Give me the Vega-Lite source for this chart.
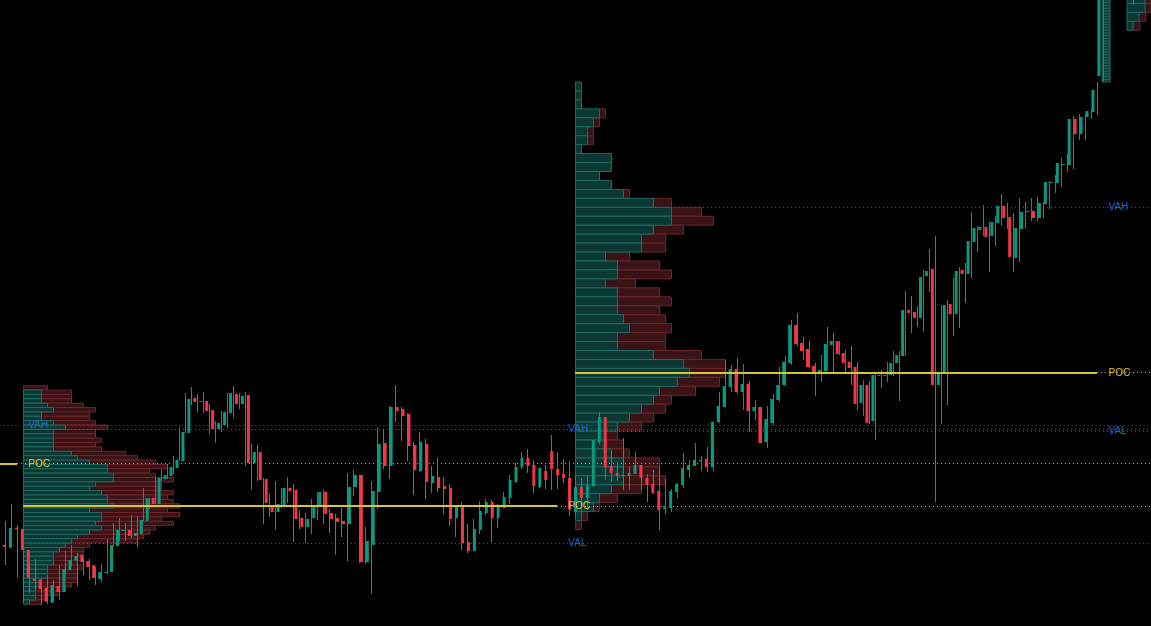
{
"$schema": "https://vega.github.io/schema/vega-lite/v6.json",
"width": 1151, "height": 626, "padding": 0, "autosize": {"type": "none"},
"background": "#000000",
"config": {"view": {"stroke": null}},
"datasets": {
"candles": [
{"i":-1,"o":81,"h":86,"l":76,"c":79},{"i":0,"o":78.3,"h":105,"l":61,"c":98},{"i":1,"o":98.3,"h":122,"l":91,"c":97},{"i":2,"o":97,"h":101,"l":48.3,"c":76},{"i":3,"o":76,"h":78.3,"l":23.3,"c":48.3},{"i":4,"o":47.3,"h":63,"l":33.3,"c":45},{"i":5,"o":46.7,"h":67,"l":36,"c":37},{"i":6,"o":38.3,"h":41,"l":21,"c":24.3},{"i":7,"o":23.3,"h":50,"l":22,"c":41},{"i":8,"o":40,"h":46,"l":24,"c":34},{"i":9,"o":34,"h":61,"l":26,"c":57},{"i":10,"o":56,"h":75,"l":52,"c":66},{"i":11,"o":65.3,"h":81,"l":59.3,"c":70},{"i":12,"o":71.3,"h":73.3,"l":39.3,"c":64},{"i":13,"o":65,"h":67,"l":51,"c":59},{"i":14,"o":61,"h":67,"l":46,"c":48},{"i":15,"o":47,"h":59,"l":41,"c":54},{"i":16,"o":53,"h":62,"l":44,"c":54},{"i":17,"o":54,"h":87,"l":52,"c":81},{"i":18,"o":80,"h":103,"l":79.3,"c":96},{"i":19,"o":95,"h":108,"l":85,"c":96},{"i":20,"o":96,"h":103,"l":85,"c":90},{"i":21,"o":90,"h":111,"l":88,"c":93},{"i":22,"o":92,"h":110,"l":79,"c":106},{"i":23,"o":105.3,"h":138,"l":104.3,"c":128},{"i":24,"o":128,"h":128,"l":117,"c":122},{"i":25,"o":122,"h":149,"l":122,"c":148},{"i":26,"o":147,"h":157,"l":145,"c":151},{"i":27,"o":150,"h":162,"l":147,"c":159},{"i":28,"o":158,"h":170,"l":152,"c":166},{"i":29,"o":165,"h":199,"l":165,"c":194},{"i":30,"o":193,"h":233,"l":193,"c":227},{"i":31,"o":228,"h":239,"l":221,"c":224},{"i":32,"o":224,"h":232,"l":214,"c":225},{"i":33,"o":225,"h":234,"l":213,"c":215},{"i":34,"o":216,"h":222,"l":192,"c":197},{"i":35,"o":197,"h":205,"l":183,"c":203},{"i":36,"o":201,"h":215,"l":194,"c":214},{"i":37,"o":213,"h":233,"l":198,"c":233},{"i":38,"o":232,"h":240,"l":208,"c":222},{"i":39,"o":222,"h":233,"l":217,"c":230},{"i":40,"o":231,"h":234,"l":160,"c":163},{"i":41,"o":163,"h":182,"l":136,"c":174},{"i":42,"o":174,"h":181,"l":145,"c":146},{"i":43,"o":147,"h":148,"l":102,"c":123},{"i":44,"o":121,"h":132,"l":109,"c":114},{"i":45,"o":114,"h":145,"l":96,"c":122},{"i":46,"o":120,"h":138,"l":118,"c":138},{"i":47,"o":138,"h":149,"l":123,"c":135},{"i":48,"o":136,"h":142,"l":84,"c":107},{"i":49,"o":108,"h":116,"l":97,"c":99},{"i":50,"o":99,"h":113,"l":83,"c":107},{"i":51,"o":108,"h":127,"l":92,"c":120},{"i":52,"o":120,"h":134,"l":106,"c":134},{"i":53,"o":134,"h":136,"l":102,"c":112},{"i":54,"o":113,"h":117,"l":93,"c":107},{"i":55,"o":108,"h":112,"l":71,"c":104},{"i":56,"o":105,"h":118,"l":89,"c":102},{"i":57,"o":102,"h":153,"l":65,"c":139},{"i":58,"o":139,"h":156,"l":130,"c":151},{"i":59,"o":151,"h":151,"l":63,"c":64},{"i":60,"o":64,"h":99,"l":62,"c":85},{"i":61,"o":81,"h":145,"l":32,"c":135},{"i":62,"o":134,"h":199,"l":117,"c":182},{"i":63,"o":183,"h":197,"l":157,"c":160},{"i":64,"o":160,"h":220,"l":147,"c":219},{"i":65,"o":219,"h":241,"l":204,"c":215},{"i":66,"o":217,"h":219,"l":185,"c":210},{"i":67,"o":212,"h":213,"l":165,"c":180},{"i":68,"o":181,"h":184,"l":131,"c":156},{"i":69,"o":155,"h":194,"l":154,"c":184},{"i":70,"o":182,"h":187,"l":127,"c":144},{"i":71,"o":143,"h":160,"l":133,"c":150},{"i":72,"o":149,"h":168,"l":134,"c":138},{"i":73,"o":140,"h":149,"l":112,"c":137},{"i":74,"o":138,"h":142,"l":100,"c":107},{"i":75,"o":108,"h":121,"l":89,"c":120},{"i":76,"o":120,"h":124,"l":76,"c":83},{"i":77,"o":84,"h":102,"l":73,"c":75},{"i":78,"o":75,"h":107,"l":75,"c":97},{"i":79,"o":96,"h":125,"l":92,"c":115},{"i":80,"o":113,"h":127,"l":111,"c":124},{"i":81,"o":124,"h":126,"l":84,"c":108},{"i":82,"o":108,"h":122,"l":98,"c":120},{"i":83,"o":118,"h":134,"l":118,"c":129},{"i":84,"o":128,"h":151,"l":122,"c":146},{"i":85,"o":144,"h":163,"l":143,"c":159},{"i":86,"o":159,"h":174,"l":157,"c":168},{"i":87,"o":168,"h":177,"l":153,"c":160},{"i":88,"o":161,"h":166,"l":133,"c":140},{"i":89,"o":139,"h":158,"l":138,"c":158},{"i":90,"o":155,"h":161,"l":137,"c":146},{"i":91,"o":175,"h":191,"l":136,"c":157},{"i":92,"o":157,"h":174,"l":137,"c":151},{"i":93,"o":152,"h":167,"l":143,"c":148},{"i":94,"o":148,"h":165,"l":110,"c":117},{"i":95,"o":114,"h":150,"l":109,"c":139},{"i":96,"o":139,"h":148,"l":115,"c":128},{"i":97,"o":128,"h":150,"l":116,"c":141},{"i":98,"o":140,"h":186,"l":139,"c":186},{"i":99,"o":184,"h":214,"l":182,"c":209},{"i":100,"o":209,"h":209,"l":146,"c":159},{"i":101,"o":160,"h":175,"l":144,"c":153},{"i":102,"o":153,"h":164,"l":145,"c":150},{"i":103,"o":151,"h":188,"l":136,"c":150},{"i":104,"o":150,"h":159,"l":136,"c":153},{"i":105,"o":152,"h":174,"l":152,"c":161},{"i":106,"o":161,"h":161,"l":136,"c":148},{"i":107,"o":148,"h":152,"l":124,"c":141},{"i":108,"o":142,"h":156,"l":132,"c":133},{"i":109,"o":135,"h":159,"l":96,"c":116},{"i":110,"o":117,"h":147,"l":112,"c":120},{"i":111,"o":118,"h":137,"l":114,"c":135},{"i":112,"o":134,"h":143,"l":128,"c":142},{"i":113,"o":141,"h":173,"l":138,"c":158},{"i":114,"o":156,"h":166,"l":148,"c":161},{"i":115,"o":160,"h":183,"l":160,"c":166},{"i":116,"o":165,"h":170,"l":155,"c":166},{"i":117,"o":167,"h":179,"l":154,"c":159},{"i":118,"o":159,"h":204,"l":155,"c":204},{"i":119,"o":204,"h":234,"l":203,"c":220},{"i":120,"o":219,"h":266,"l":219,"c":240},{"i":121,"o":239,"h":261,"l":234,"c":257},{"i":122,"o":257,"h":268,"l":232,"c":234},{"i":123,"o":234,"h":262,"l":216,"c":242},{"i":124,"o":242,"h":245,"l":194,"c":215},{"i":125,"o":215,"h":226,"l":206,"c":219},{"i":126,"o":219,"h":219,"l":183,"c":183},{"i":127,"o":184,"h":220,"l":178,"c":207},{"i":128,"o":203,"h":232,"l":201,"c":227},{"i":129,"o":226,"h":259,"l":224,"c":241},{"i":130,"o":241,"h":270,"l":240,"c":264},{"i":131,"o":263,"h":306,"l":261,"c":301},{"i":132,"o":301,"h":313,"l":280,"c":282},{"i":133,"o":283,"h":289,"l":266,"c":275},{"i":134,"o":277,"h":285,"l":258,"c":259},{"i":135,"o":260,"h":263,"l":230,"c":254},{"i":136,"o":254,"h":271,"l":244,"c":256},{"i":137,"o":255,"h":299,"l":255,"c":282},{"i":138,"o":281,"h":293,"l":254,"c":285},{"i":139,"o":285,"h":285,"l":271,"c":272},{"i":140,"o":273,"h":276,"l":254,"c":263},{"i":141,"o":264,"h":280,"l":241,"c":258},{"i":142,"o":259,"h":264,"l":216,"c":222},{"i":143,"o":223,"h":246,"l":210,"c":241},{"i":144,"o":241,"h":245,"l":202,"c":203},{"i":145,"o":205,"h":253,"l":186,"c":251},{"i":146,"o":250,"h":256,"l":238,"c":251},{"i":147,"o":250,"h":264,"l":244,"c":251},{"i":148,"o":251,"h":275,"l":250,"c":263},{"i":149,"o":263,"h":275,"l":225,"c":271},{"i":150,"o":270,"h":335,"l":270,"c":316},{"i":151,"o":316,"h":330,"l":293,"c":313},{"i":152,"o":314,"h":320,"l":299,"c":308},{"i":153,"o":308,"h":356,"l":294,"c":349},{"i":154,"o":350,"h":377,"l":334,"c":355},{"i":155,"o":357,"h":390,"l":124,"c":241},{"i":156,"o":241,"h":321,"l":202,"c":253},{"i":157,"o":253,"h":326,"l":221,"c":321},{"i":158,"o":322,"h":348,"l":290,"c":312},{"i":159,"o":312,"h":359,"l":298,"c":355},{"i":160,"o":356,"h":363,"l":323,"c":352},{"i":161,"o":352,"h":414,"l":348,"c":385},{"i":162,"o":384,"h":400,"l":374,"c":398},{"i":163,"o":396,"h":421,"l":390,"c":399},{"i":164,"o":399,"h":404,"l":354,"c":389},{"i":165,"o":390,"h":410,"l":380,"c":404},{"i":166,"o":403,"h":432,"l":400,"c":420},{"i":167,"o":420,"h":423,"l":397,"c":408},{"i":168,"o":409,"h":413,"l":354,"c":369},{"i":169,"o":368,"h":428,"l":364,"c":398},{"i":170,"o":397,"h":424,"l":397,"c":414},{"i":171,"o":414,"h":428,"l":405,"c":415},{"i":172,"o":415,"h":429,"l":405,"c":408},{"i":173,"o":408,"h":424,"l":408,"c":423},{"i":174,"o":422,"h":445,"l":417,"c":444},{"i":175,"o":443,"h":451,"l":433,"c":444},{"i":176,"o":443,"h":468,"l":439,"c":463},{"i":177,"o":461,"h":472,"l":454,"c":462},{"i":178,"o":461,"h":510,"l":457,"c":507},{"i":179,"o":507,"h":512,"l":486,"c":492},{"i":180,"o":492,"h":512,"l":486,"c":509},{"i":181,"o":509,"h":517,"l":507,"c":515},{"i":182,"o":514,"h":544,"l":511,"c":536},{"i":183,"o":550,"h":650,"l":544,"c":640},{"i":188,"o":640,"h":670,"l":621,"c":660}
],
"p1": [
{"hi":240.3,"lo":235.93,"buy":0,"tot":4},{"hi":235.93,"lo":231.56,"buy":3,"tot":8},{"hi":231.56,"lo":227.18,"buy":3,"tot":8},{"hi":227.18,"lo":222.81,"buy":3,"tot":8},{"hi":222.81,"lo":218.44,"buy":4,"tot":10},{"hi":218.44,"lo":214.07,"buy":5,"tot":12},{"hi":214.07,"lo":209.7,"buy":3,"tot":11},{"hi":209.7,"lo":205.32,"buy":3,"tot":11},{"hi":205.32,"lo":200.95,"buy":5,"tot":12},{"hi":200.95,"lo":196.58,"buy":7,"tot":14},{"hi":196.58,"lo":192.21,"buy":5,"tot":12},{"hi":192.21,"lo":187.84,"buy":5,"tot":12},{"hi":187.84,"lo":183.46,"buy":5,"tot":13},{"hi":183.46,"lo":179.09,"buy":5,"tot":12},{"hi":179.09,"lo":174.72,"buy":5,"tot":13},{"hi":174.72,"lo":170.35,"buy":8,"tot":17},{"hi":170.35,"lo":165.98,"buy":9,"tot":19},{"hi":165.98,"lo":161.6,"buy":11,"tot":22},{"hi":161.6,"lo":157.23,"buy":14,"tot":24},{"hi":157.23,"lo":152.86,"buy":14,"tot":21},{"hi":152.86,"lo":148.49,"buy":15,"tot":22},{"hi":148.49,"lo":144.12,"buy":15,"tot":25},{"hi":144.12,"lo":139.74,"buy":12,"tot":23},{"hi":139.74,"lo":135.37,"buy":11,"tot":23},{"hi":135.37,"lo":131,"buy":13,"tot":25},{"hi":131,"lo":126.63,"buy":14,"tot":24},{"hi":126.63,"lo":122.26,"buy":14,"tot":25},{"hi":122.26,"lo":117.88,"buy":15,"tot":26},{"hi":117.88,"lo":113.51,"buy":11,"tot":24},{"hi":113.51,"lo":109.14,"buy":13,"tot":26},{"hi":109.14,"lo":104.77,"buy":13,"tot":23},{"hi":104.77,"lo":100.4,"buy":12,"tot":25},{"hi":100.4,"lo":96.02,"buy":13,"tot":22},{"hi":96.02,"lo":91.65,"buy":11,"tot":21},{"hi":91.65,"lo":87.28,"buy":9,"tot":20},{"hi":87.28,"lo":82.91,"buy":8,"tot":19},{"hi":82.91,"lo":78.54,"buy":7,"tot":11},{"hi":78.54,"lo":74.16,"buy":6,"tot":10},{"hi":74.16,"lo":69.79,"buy":5,"tot":10},{"hi":69.79,"lo":65.42,"buy":5,"tot":10},{"hi":65.42,"lo":61.05,"buy":5,"tot":9},{"hi":61.05,"lo":56.68,"buy":4,"tot":10},{"hi":56.68,"lo":52.3,"buy":4,"tot":9},{"hi":52.3,"lo":47.93,"buy":4,"tot":9},{"hi":47.93,"lo":43.56,"buy":3,"tot":9},{"hi":43.56,"lo":39.19,"buy":3,"tot":8},{"hi":39.19,"lo":34.82,"buy":2,"tot":7},{"hi":34.82,"lo":30.44,"buy":2,"tot":6},{"hi":30.44,"lo":26.07,"buy":2,"tot":4},{"hi":26.07,"lo":21.7,"buy":1,"tot":3}
],
"p2": [
{"hi":544,"lo":535.05,"buy":1,"tot":1},{"hi":535.05,"lo":526.1,"buy":1,"tot":1},{"hi":526.1,"lo":517.15,"buy":1,"tot":1},{"hi":517.15,"lo":508.2,"buy":4,"tot":5},{"hi":508.2,"lo":499.25,"buy":3,"tot":4},{"hi":499.25,"lo":490.3,"buy":2,"tot":3},{"hi":490.3,"lo":481.35,"buy":2,"tot":3},{"hi":481.35,"lo":472.4,"buy":1,"tot":1},{"hi":472.4,"lo":463.45,"buy":6,"tot":6},{"hi":463.45,"lo":454.5,"buy":6,"tot":6},{"hi":454.5,"lo":445.55,"buy":4,"tot":4},{"hi":445.55,"lo":436.6,"buy":6,"tot":6},{"hi":436.6,"lo":427.65,"buy":8,"tot":9},{"hi":427.65,"lo":418.7,"buy":13,"tot":16},{"hi":418.7,"lo":409.75,"buy":16,"tot":21},{"hi":409.75,"lo":400.8,"buy":16,"tot":23},{"hi":400.8,"lo":391.85,"buy":13,"tot":18},{"hi":391.85,"lo":382.9,"buy":11,"tot":15},{"hi":382.9,"lo":373.95,"buy":11,"tot":15},{"hi":373.95,"lo":365,"buy":5,"tot":9},{"hi":365,"lo":356.05,"buy":7,"tot":14},{"hi":356.05,"lo":347.1,"buy":7,"tot":16},{"hi":347.1,"lo":338.15,"buy":5,"tot":10},{"hi":338.15,"lo":329.2,"buy":7,"tot":14},{"hi":329.2,"lo":320.25,"buy":7,"tot":16},{"hi":320.25,"lo":311.3,"buy":7,"tot":14},{"hi":311.3,"lo":302.35,"buy":8,"tot":15},{"hi":302.35,"lo":293.4,"buy":9,"tot":16},{"hi":293.4,"lo":284.45,"buy":7,"tot":15},{"hi":284.45,"lo":275.5,"buy":7,"tot":15},{"hi":275.5,"lo":266.55,"buy":13,"tot":21},{"hi":266.55,"lo":257.6,"buy":18,"tot":25},{"hi":257.6,"lo":248.65,"buy":19,"tot":25},{"hi":248.65,"lo":239.7,"buy":17,"tot":24},{"hi":239.7,"lo":230.75,"buy":14,"tot":20},{"hi":230.75,"lo":221.8,"buy":13,"tot":16},{"hi":221.8,"lo":212.85,"buy":11,"tot":15},{"hi":212.85,"lo":203.9,"buy":9,"tot":13},{"hi":203.9,"lo":194.95,"buy":7,"tot":11},{"hi":194.95,"lo":186,"buy":5,"tot":7},{"hi":186,"lo":177.05,"buy":5,"tot":8},{"hi":177.05,"lo":168.1,"buy":6,"tot":9},{"hi":168.1,"lo":159.15,"buy":8,"tot":14},{"hi":159.15,"lo":150.2,"buy":8,"tot":14},{"hi":150.2,"lo":141.25,"buy":8,"tot":15},{"hi":141.25,"lo":132.3,"buy":6,"tot":11},{"hi":132.3,"lo":123.35,"buy":4,"tot":7},{"hi":123.35,"lo":114.4,"buy":3,"tot":4},{"hi":114.4,"lo":105.45,"buy":1,"tot":2},{"hi":105.45,"lo":96.5,"buy":0,"tot":1}
],
"p3": [
{"hi":546.7,"lo":544,"buy":1.35},{"hi":549.5,"lo":546.7,"buy":1.35},{"hi":552.2,"lo":549.5,"buy":1.35},{"hi":554.9,"lo":552.2,"buy":1.35},{"hi":557.7,"lo":554.9,"buy":1.35},{"hi":560.4,"lo":557.7,"buy":1.35},{"hi":563.1,"lo":560.4,"buy":1.35},{"hi":565.9,"lo":563.1,"buy":1.35},{"hi":568.6,"lo":565.9,"buy":1.35},{"hi":571.3,"lo":568.6,"buy":1.35},{"hi":574.1,"lo":571.3,"buy":1.35},{"hi":576.8,"lo":574.1,"buy":1.35},{"hi":579.5,"lo":576.8,"buy":1.35},{"hi":582.3,"lo":579.5,"buy":1.35},{"hi":585,"lo":582.3,"buy":1.35},{"hi":587.7,"lo":585,"buy":1.35},{"hi":590.5,"lo":587.7,"buy":1.35},{"hi":593.2,"lo":590.5,"buy":1.35},{"hi":595.9,"lo":593.2,"buy":1.35},{"hi":598.7,"lo":595.9,"buy":1.35},{"hi":601.4,"lo":598.7,"buy":1.35},{"hi":604.1,"lo":601.4,"buy":1.35},{"hi":606.9,"lo":604.1,"buy":1.35},{"hi":609.6,"lo":606.9,"buy":1.35},{"hi":612.3,"lo":609.6,"buy":1.35},{"hi":615.1,"lo":612.3,"buy":1.35},{"hi":617.8,"lo":615.1,"buy":1.35},{"hi":620.5,"lo":617.8,"buy":1.35},{"hi":623.3,"lo":620.5,"buy":1.35},{"hi":626,"lo":623.3,"buy":1.35}
],
"p4": [
{"hi":604.7,"lo":595.7,"buy":1,"tot":2.15},{"hi":613.7,"lo":604.7,"buy":2,"tot":3.15},{"hi":622.7,"lo":613.7,"buy":3,"tot":4},{"hi":631.7,"lo":622.7,"buy":3,"tot":4}
],
"levels": [
{"kind":"vah","style":"dotted","p":200.5,"from":-1,"to":191},
{"kind":"poc","style":"dotted","p":162.5,"from":1.92,"to":191},
{"kind":"poc","style":"solid","p":162,"from":-1,"to":1.92},
{"kind":"vah","style":"dotted","p":196.5,"from":2.92,"to":191},
{"kind":"poc","style":"solid","p":120,"from":2.92,"to":91.92},
{"kind":"poc","style":"dotted","p":119.5,"from":91.92,"to":191},
{"kind":"val","style":"dotted","p":82.5,"from":2.92,"to":191},
{"kind":"vah","style":"dotted","p":418.5,"from":94.92,"to":191},
{"kind":"poc","style":"solid","p":253,"from":94.92,"to":181.9},
{"kind":"poc","style":"dotted","p":253.5,"from":181.9,"to":191},
{"kind":"val","style":"dotted","p":194.5,"from":94.92,"to":191}
],
"labels": [
{"t":"VAH","i":3.8,"p":200.7},{"t":"POC","i":3.8,"p":162.5},
{"t":"VAH","i":93.8,"p":196.8},{"t":"POC","i":93.8,"p":120},{"t":"VAL","i":93.8,"p":83},
{"t":"VAH","i":183.83,"p":419},{"t":"POC","i":183.83,"p":253.2},{"t":"VAL","i":183.83,"p":195}
]
},
"resolve": {"scale": {"x": "independent"}},
"layer": [
{"data": {"name": "p1"}, "mark": {"type": "rect", "fill": "#3a1317", "stroke": "#6f2429", "strokeWidth": 1},
 "encoding": {"x": {"field": "tot", "type": "quantitative", "scale": {"domain": [-3.9167, 187.9167], "nice": false, "zero": false}, "axis": null},
  "x2": {"field": "buy"},
  "y": {"field": "hi", "type": "quantitative", "scale": {"domain": [0, 626], "nice": false, "zero": false}, "axis": null},
  "y2": {"field": "lo"}}},
{"data": {"name": "p1"}, "transform": [{"filter": "datum.buy > 0"}], "mark": {"type": "rect", "fill": "#0c3834", "stroke": "#1d6b62", "strokeWidth": 1},
 "encoding": {"x": {"field": "buy", "type": "quantitative", "scale": {"domain": [-3.9167, 187.9167], "nice": false, "zero": false}, "axis": null},
  "x2": {"datum": 0},
  "y": {"field": "hi", "type": "quantitative", "scale": {"domain": [0, 626], "nice": false, "zero": false}, "axis": null},
  "y2": {"field": "lo"}}},
{"data": {"name": "p2"}, "mark": {"type": "rect", "fill": "#3a1317", "stroke": "#6f2429", "strokeWidth": 1},
 "encoding": {"x": {"field": "tot", "type": "quantitative", "scale": {"domain": [-95.9167, 95.9167], "nice": false, "zero": false}, "axis": null},
  "x2": {"field": "buy"},
  "y": {"field": "hi", "type": "quantitative", "scale": {"domain": [0, 626], "nice": false, "zero": false}, "axis": null},
  "y2": {"field": "lo"}}},
{"data": {"name": "p2"}, "transform": [{"filter": "datum.buy > 0"}], "mark": {"type": "rect", "fill": "#0c3834", "stroke": "#1d6b62", "strokeWidth": 1},
 "encoding": {"x": {"field": "buy", "type": "quantitative", "scale": {"domain": [-95.9167, 95.9167], "nice": false, "zero": false}, "axis": null},
  "x2": {"datum": 0},
  "y": {"field": "hi", "type": "quantitative", "scale": {"domain": [0, 626], "nice": false, "zero": false}, "axis": null},
  "y2": {"field": "lo"}}},
{"data": {"name": "p3"}, "mark": {"type": "rect", "fill": "#0c3834", "stroke": "#1d6b62", "strokeWidth": 1, "clip": true},
 "encoding": {"x": {"field": "buy", "type": "quantitative", "scale": {"domain": [-183.6667, 8.1667], "nice": false, "zero": false}, "axis": null},
  "x2": {"datum": 0},
  "y": {"field": "hi", "type": "quantitative", "scale": {"domain": [0, 626], "nice": false, "zero": false}, "axis": null},
  "y2": {"field": "lo"}}},
{"data": {"name": "p4"}, "mark": {"type": "rect", "fill": "#3a1317", "stroke": "#6f2429", "strokeWidth": 1, "clip": true},
 "encoding": {"x": {"field": "tot", "type": "quantitative", "scale": {"domain": [-187.8333, 4], "nice": false, "zero": false}, "axis": null},
  "x2": {"field": "buy"},
  "y": {"field": "hi", "type": "quantitative", "scale": {"domain": [0, 626], "nice": false, "zero": false}, "axis": null},
  "y2": {"field": "lo"}}},
{"data": {"name": "p4"}, "mark": {"type": "rect", "fill": "#0c3834", "stroke": "#1d6b62", "strokeWidth": 1, "clip": true},
 "encoding": {"x": {"field": "buy", "type": "quantitative", "scale": {"domain": [-187.8333, 4], "nice": false, "zero": false}, "axis": null},
  "x2": {"datum": 0},
  "y": {"field": "hi", "type": "quantitative", "scale": {"domain": [0, 626], "nice": false, "zero": false}, "axis": null},
  "y2": {"field": "lo"}}},
{"data": {"name": "levels"}, "transform": [{"filter": "datum.style === 'dotted' && datum.kind !== 'poc'"}],
 "mark": {"type": "rule", "stroke": "#36608a", "strokeWidth": 1, "strokeDash": [1, 3], "clip": true},
 "encoding": {"x": {"field": "from", "type": "quantitative", "scale": {"domain": [-0.9167, 190.9167], "nice": false, "zero": false}, "axis": null},
  "x2": {"field": "to"},
  "y": {"field": "p", "type": "quantitative", "scale": {"domain": [0, 626], "nice": false, "zero": false}, "axis": null}}},
{"data": {"name": "levels"}, "transform": [{"filter": "datum.style === 'dotted' && datum.kind === 'poc'"}],
 "mark": {"type": "rule", "stroke": "#c8b93c", "strokeWidth": 1, "strokeDash": [1, 3], "clip": true},
 "encoding": {"x": {"field": "from", "type": "quantitative", "scale": {"domain": [-0.9167, 190.9167], "nice": false, "zero": false}, "axis": null},
  "x2": {"field": "to"},
  "y": {"field": "p", "type": "quantitative", "scale": {"domain": [0, 626], "nice": false, "zero": false}, "axis": null}}},
{"data": {"name": "candles"}, "mark": {"type": "rule", "strokeWidth": 1, "clip": true},
 "encoding": {"x": {"field": "i", "type": "quantitative", "scale": {"domain": [-0.9167, 190.9167], "nice": false, "zero": false}, "axis": null},
  "y": {"field": "h", "type": "quantitative", "scale": {"domain": [0, 626], "nice": false, "zero": false}, "axis": null},
  "y2": {"field": "l"},
  "color": {"condition": {"test": "datum.c >= datum.o", "value": "#089981"}, "value": "#f23645"}}},
{"data": {"name": "candles"}, "mark": {"type": "bar", "size": 3, "clip": true},
 "encoding": {"x": {"field": "i", "type": "quantitative", "scale": {"domain": [-0.9167, 190.9167], "nice": false, "zero": false}, "axis": null},
  "y": {"field": "o", "type": "quantitative", "scale": {"domain": [0, 626], "nice": false, "zero": false}, "axis": null},
  "y2": {"field": "c"},
  "color": {"condition": {"test": "datum.c >= datum.o", "value": "#089981"}, "value": "#f23645"}}},
{"data": {"name": "levels"}, "transform": [{"filter": "datum.style === 'solid'"}],
 "mark": {"type": "rule", "stroke": "#d6c630", "strokeWidth": 2, "clip": true},
 "encoding": {"x": {"field": "from", "type": "quantitative", "scale": {"domain": [-0.9167, 190.9167], "nice": false, "zero": false}, "axis": null},
  "x2": {"field": "to"},
  "y": {"field": "p", "type": "quantitative", "scale": {"domain": [0, 626], "nice": false, "zero": false}, "axis": null}}},
{"data": {"name": "labels"}, "mark": {"type": "text", "align": "left", "baseline": "middle", "font": "Liberation Sans", "fontSize": 10},
 "encoding": {"x": {"field": "i", "type": "quantitative", "scale": {"domain": [-0.9167, 190.9167], "nice": false, "zero": false}, "axis": null},
  "y": {"field": "p", "type": "quantitative", "scale": {"domain": [0, 626], "nice": false, "zero": false}, "axis": null},
  "text": {"field": "t"},
  "color": {"condition": {"test": "datum.t === 'POC'", "value": "#d6c630"}, "value": "#2363c8"}}}
]
}
